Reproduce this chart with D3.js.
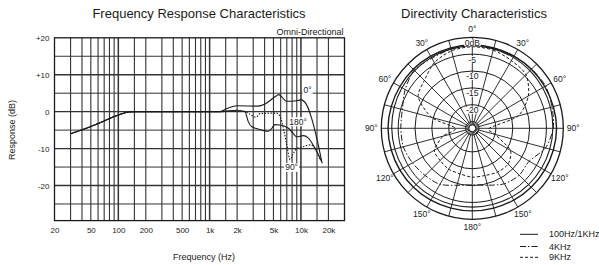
<!DOCTYPE html>
<html>
<head>
<meta charset="utf-8">
<script src="https://cdn.jsdelivr.net/npm/d3@7"></script>
<style>
  body { margin: 0; background: #fff; }
  svg { font-family: "Liberation Sans", Arial, sans-serif; }
</style>
</head>
<body>
<svg id="chart" width="599" height="265"></svg>
<script>
// ---- frequency response data (Hz, dB) ----
var freqTicks = [20, 50, 100, 200, 500, 1000, 2000, 5000, 10000, 20000];
var freqTickLabels = ["20", "50", "100", "200", "500", "1k", "2k", "5k", "10k", "20k"];
var dbTicks = [20, 10, 0, -10, -20];
var dbTickLabels = ["+20", "+10", "0", "-10", "-20"];

var lowFreq = [30, 40, 50, 70, 100, 130, 160, 300, 1000];
var lowResp = [-6, -4.9, -4, -2.5, -0.9, -0.1, 0, 0, 0];

var freq0 = [1300, 1500, 2000, 3400, 4000, 5400, 5700, 7000, 8500, 10000, 11500, 13100, 14900, 16900];
var resp0 = [0, 0.7, 1.6, 1.5, 2, 4.3, 4.6, 2.8, 2.9, 3.2, 1.9, -1.8, -7.2, -13.5];

var freq180 = [1300, 2000, 2440, 2650, 2900, 3400, 4400, 4800, 5200, 5900, 7300, 8200, 9000, 10600, 12000, 14300, 16200, 17200];
var resp180 = [0, 0.4, 0, -2.7, -4.1, -4.7, -5.3, -4.5, -3.5, -3.6, -4.5, -5.9, -6.8, -6.5, -7.1, -10, -12.6, -14];

var freq90 = [1300, 2340, 2770, 3200, 3600, 5400, 5900, 6500, 7000, 7600, 8200, 9000, 10500, 12500, 14200, 16200];
var resp90 = [0, 0.2, -0.7, -1.5, -0.5, -0.4, -1.3, -5, -9, -13, -11.5, -10, -9.5, -9, -9.8, -13];

var curveLabels = ["0°", "180°", "90°"];
var curveLabelFreq = [11800, 9300, 7900];
var curveLabelDb = [5.8, -2.75, -15.1];

// ---- directivity data (deg, dB) ----
var angles = [0, 15, 30, 45, 60, 75, 90, 105, 120, 135, 150, 165, 180, 195, 210, 225, 240, 255, 270, 285, 300, 315, 330, 345];
var dir100 = [-2.3, -2.3, -2.3, -2.2, -2.2, -2.1, -2, -2.1, -2.2, -2.3, -2.4, -2.5, -2.5, -2.5, -2.4, -2.3, -2.2, -2.1, -2, -2.1, -2.2, -2.2, -2.3, -2.3];
var dir1k  = [-2.6, -2.6, -2.7, -2.8, -2.9, -3, -3.1, -3.2, -3.3, -3.4, -3.5, -3.6, -3.6, -3.6, -3.5, -3.4, -3.3, -3.2, -3.1, -3, -2.9, -2.8, -2.7, -2.6];
var dir4k  = [-2.5, -2.4, -2.3, -2.1, -1.9, -2.5, -3, -4.5, -7.5, -7.3, -8, -9.5, -10.2, -9.5, -7.8, -7.2, -6.5, -5.8, -5.8, -5.5, -4, -2.6, -3, -2.7];
var dir9k  = [-2.8, -3, -3.8, -4.5, -7.8, -13, -22, -20, -14, -12, -12, -12.5, -12.5, -13, -13, -13.5, -14, -18, -22, -14.5, -8.5, -6.9, -4.5, -3.2];
var ringDb = [0, -5, -10, -15, -20, -25];
var ringLabels = ["0dB", "-5", "-10", "-15", "-20"];
var angleLabels = [0, 30, 60, 90, 120, 150, 180, 210, 240, 270, 300, 330];
var angleText = ["0°", "30°", "60°", "90°", "120°", "150°", "180°", "150°", "120°", "90°", "60°", "30°"];
var legendNames = ["100Hz/1KHz", "4KHz", "9KHz"];
var legendDash = ["none", "6,2,1.5,2", "3,2"];

var svg = d3.select("#chart");
var ink = "#1a1a1a";
var gridInk = "#333";

// ================= frequency response =================
var x = d3.scaleLog().domain([20, 30000]).range([54.5, 344.5]);
var y = d3.scaleLinear().domain([-29.5, 20]).range([220.6, 37.8]);

var g1 = svg.append("g");

var gridF = [];
[10, 100, 1000, 10000].forEach(function(dec) {
  [1, 1.5, 2, 3, 4, 5, 6, 7, 8, 9].forEach(function(m) {
    var f = dec * m;
    if (f > 20 && f < 30000) gridF.push(f);
  });
});

g1.selectAll(".vgrid")
  .data(gridF)
  .enter().append("line")
    .attr("x1", function(d) { return x(d); })
    .attr("x2", function(d) { return x(d); })
    .attr("y1", y(20))
    .attr("y2", y(-29.5))
    .attr("stroke", gridInk)
    .attr("stroke-width", function(d) { return [100, 1000, 10000].indexOf(d) >= 0 ? 1.5 : 1.1; });

g1.selectAll(".hgrid")
  .data(d3.range(-25, 20, 5))
  .enter().append("line")
    .attr("x1", x(20))
    .attr("x2", x(30000))
    .attr("y1", function(d) { return y(d); })
    .attr("y2", function(d) { return y(d); })
    .attr("stroke", gridInk)
    .attr("stroke-width", function(d) { return d % 10 === 0 ? 1.3 : 1; });

g1.append("rect")
  .attr("x", x(20)).attr("y", y(20))
  .attr("width", x(30000) - x(20)).attr("height", y(-29.5) - y(20))
  .attr("fill", "none").attr("stroke", ink).attr("stroke-width", 1.3);

var line = d3.line()
  .x(function(d) { return x(d[0]); })
  .y(function(d) { return y(d[1]); })
  .curve(d3.curveMonotoneX);

function series(fs, rs) {
  var pts = [];
  lowFreq.forEach(function(f, i) { if (f < fs[0]) pts.push([f, lowResp[i]]); });
  fs.forEach(function(f, i) { pts.push([f, rs[i]]); });
  return pts;
}

g1.append("path").datum(series(freq0, resp0)).attr("d", line)
  .attr("fill", "none").attr("stroke", ink).attr("stroke-width", 1.1);
g1.append("path").datum(series(freq180, resp180)).attr("d", line)
  .attr("fill", "none").attr("stroke", ink).attr("stroke-width", 1.1);
g1.append("path").datum(series(freq90, resp90)).attr("d", line)
  .attr("fill", "none").attr("stroke", ink).attr("stroke-width", 1.1)
  .attr("stroke-dasharray", "1.5,1.5");

// curve labels with white boxes
curveLabels.forEach(function(l, i) {
  var t = g1.append("text")
    .attr("x", x(curveLabelFreq[i])).attr("y", y(curveLabelDb[i]))
    .attr("dy", "0.35em")
    .attr("text-anchor", "middle")
    .attr("font-size", 8.5).attr("fill", ink)
    .text(l);
  var b = t.node().getBBox();
  g1.insert("rect", function() { return t.node(); })
    .attr("x", b.x - 1).attr("y", b.y + 0.5).attr("width", b.width + 2).attr("height", b.height - 1)
    .attr("fill", "#fff");
});

g1.append("g")
  .attr("transform", "translate(0," + 230 + ")")
  .call(d3.axisBottom(x).tickValues(freqTicks).tickSize(0)
    .tickFormat(function(d, i) { return freqTickLabels[i]; }))
  .call(function(a) { a.select(".domain").remove(); })
  .selectAll("text")
    .attr("y", 0).attr("dy", "0.35em")
    .attr("font-size", 8).attr("fill", ink)
    .attr("font-family", "Liberation Sans, Arial, sans-serif");

g1.append("g")
  .attr("transform", "translate(49.5,0)")
  .call(d3.axisLeft(y).tickValues(dbTicks).tickSize(0)
    .tickFormat(function(d, i) { return dbTickLabels[i]; }))
  .call(function(a) { a.select(".domain").remove(); })
  .selectAll("text")
    .attr("x", 0).attr("dy", "0.35em")
    .attr("font-size", 8).attr("fill", ink)
    .attr("font-family", "Liberation Sans, Arial, sans-serif");

svg.append("text").attr("x", 199).attr("y", 17.5)
  .attr("text-anchor", "middle").attr("font-size", 13).attr("fill", ink)
  .text("Frequency Response Characteristics");
svg.append("text").attr("x", 343.5).attr("y", 34.5)
  .attr("text-anchor", "end").attr("font-size", 9).attr("fill", ink)
  .text("Omni-Directional");
svg.append("text").attr("x", 204).attr("y", 259.5)
  .attr("text-anchor", "middle").attr("font-size", 9).attr("fill", ink)
  .text("Frequency (Hz)");
svg.append("text")
  .attr("transform", "translate(14.5,130) rotate(-90)")
  .attr("text-anchor", "middle").attr("font-size", 9).attr("fill", ink)
  .text("Response (dB)");

// ================= directivity =================
var cx = 472.3, cy = 128.3;
var r = d3.scaleLinear().domain([-27, 0]).range([0, 91]);
var g2 = svg.append("g").attr("transform", "translate(" + cx + "," + cy + ")");

g2.selectAll(".ring")
  .data(ringDb)
  .enter().append("circle")
    .attr("r", function(d) { return r(d); })
    .attr("fill", "none").attr("stroke", ink)
    .attr("stroke-width", function(d) { return d === 0 ? 1.3 : 1; });
g2.append("circle").attr("r", 3.5).attr("fill", "none").attr("stroke", ink);

g2.selectAll(".spoke")
  .data(d3.range(0, 360, 15))
  .enter().append("line")
    .attr("x1", function(d) { return 3.5 * Math.sin(d * Math.PI / 180); })
    .attr("y1", function(d) { return -3.5 * Math.cos(d * Math.PI / 180); })
    .attr("x2", function(d) { return r(0) * Math.sin(d * Math.PI / 180); })
    .attr("y2", function(d) { return -r(0) * Math.cos(d * Math.PI / 180); })
    .attr("stroke", ink).attr("stroke-width", 0.9);

var radial = d3.lineRadial()
  .angle(function(d) { return d[0] * Math.PI / 180; })
  .radius(function(d) { return r(d[1]); })
  .curve(d3.curveCardinalClosed.tension(0.2));

function polar(vals) { return angles.map(function(a, i) { return [a, vals[i]]; }); }

g2.append("path").datum(polar(dir100)).attr("d", radial)
  .attr("fill", "none").attr("stroke", ink).attr("stroke-width", 1.4);
g2.append("path").datum(polar(dir1k)).attr("d", radial)
  .attr("fill", "none").attr("stroke", ink).attr("stroke-width", 1.1);
g2.append("path").datum(polar(dir4k)).attr("d", radial)
  .attr("fill", "none").attr("stroke", ink).attr("stroke-width", 1)
  .attr("stroke-dasharray", legendDash[1]);
g2.append("path").datum(polar(dir9k)).attr("d", radial)
  .attr("fill", "none").attr("stroke", ink).attr("stroke-width", 1)
  .attr("stroke-dasharray", legendDash[2]);

// ring labels on the 0° axis, white boxes
ringLabels.forEach(function(t, i) {
  var yy = -r(ringDb[i]) + 5.5;
  var tx = g2.append("text").attr("x", 0).attr("y", yy).attr("dy", "0.35em")
    .attr("text-anchor", "middle").attr("font-size", 8.5).attr("fill", ink).text(t);
  var b = tx.node().getBBox();
  g2.insert("rect", function() { return tx.node(); })
    .attr("x", b.x - 0.5).attr("y", b.y + 1.5).attr("width", b.width + 1).attr("height", b.height - 3)
    .attr("fill", "#fff");
});

g2.selectAll(".alabel")
  .data(angleLabels)
  .enter().append("text")
    .attr("x", function(d) { return 101 * Math.sin(d * Math.PI / 180); })
    .attr("y", function(d) { return -99 * Math.cos(d * Math.PI / 180); })
    .attr("dy", "0.35em")
    .attr("text-anchor", "middle")
    .attr("font-size", 8.5).attr("fill", ink)
    .text(function(d, i) { return angleText[i]; });

svg.append("text").attr("x", 474).attr("y", 17.5)
  .attr("text-anchor", "middle").attr("font-size", 13).attr("fill", ink)
  .text("Directivity Characteristics");

var leg = svg.append("g").selectAll("g")
  .data(legendNames)
  .enter().append("g")
    .attr("transform", function(d, i) { return "translate(520," + [234.3, 246.5, 257.3][i] + ")"; });
leg.append("line").attr("x1", 0).attr("x2", 18)
  .attr("stroke", ink).attr("stroke-width", 1)
  .attr("stroke-dasharray", function(d, i) { return legendDash[i]; });
leg.append("text").attr("x", 29).attr("dy", "0.35em")
  .attr("font-size", 9).attr("fill", ink)
  .text(function(d) { return d; });
</script>
</body>
</html>
